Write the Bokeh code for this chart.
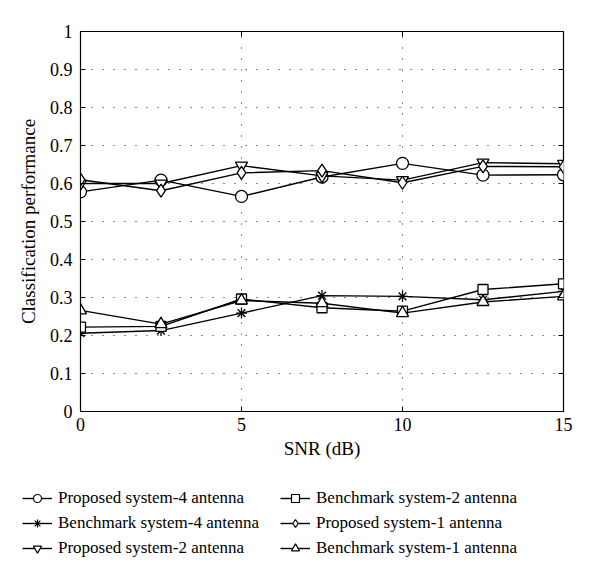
from bokeh.plotting import figure
from bokeh.models import Legend, LegendItem, LinearAxis, Range1d, FixedTicker
from bokeh.embed import file_html
from bokeh.resources import INLINE

snr = [0, 2.5, 5, 7.5, 10, 12.5, 15]
proposed_4 = [0.578, 0.609, 0.566, 0.617, 0.653, 0.622, 0.623]
benchmark_4 = [0.206, 0.213, 0.259, 0.305, 0.303, 0.294, 0.316]
proposed_2 = [0.600, 0.600, 0.647, 0.620, 0.609, 0.655, 0.652]
benchmark_2 = [0.222, 0.224, 0.296, 0.273, 0.264, 0.321, 0.336]
proposed_1 = [0.610, 0.581, 0.628, 0.634, 0.602, 0.645, 0.644]
benchmark_1 = [0.266, 0.230, 0.292, 0.285, 0.259, 0.288, 0.303]

names = ["Proposed system-4 antenna", "Benchmark system-4 antenna", "Proposed system-2 antenna",
         "Benchmark system-2 antenna", "Proposed system-1 antenna", "Benchmark system-1 antenna"]
series = [proposed_4, benchmark_4, proposed_2, benchmark_2, proposed_1, benchmark_1]
markers = ["circle", "asterisk", "inverted_triangle", "square", "diamond", "triangle"]
sizes = [12, 11, 12, 10, 13, 12]
legend_sizes = [9, 9, 9, 8, 10, 9]

x_ticks = [0, 5, 10, 15]
y_ticks = [0, 0.1, 0.2, 0.3, 0.4, 0.5, 0.6, 0.7, 0.8, 0.9, 1]

FONT = "Liberation Serif"

p = figure(width=584, height=470, output_backend="svg", toolbar_location=None,
           x_range=Range1d(0, 15), y_range=Range1d(0, 1),
           min_border_left=80, min_border_right=21, min_border_top=31, min_border_bottom=59)
p.background_fill_color = "white"
p.border_fill_color = "white"
p.outline_line_color = "black"
p.outline_line_width = 1.2

for ax in (p.xaxis[0], p.yaxis[0]):
    ax.major_tick_in = 5
    ax.major_tick_out = 0
    ax.minor_tick_in = 0
    ax.minor_tick_out = 0
    ax.axis_line_color = "black"
    ax.major_label_text_font = FONT
    ax.major_label_text_font_size = "18px"
    ax.major_label_text_color = "black"
    ax.axis_label_text_font = FONT
    ax.axis_label_text_font_size = "19px"
    ax.axis_label_text_font_style = "normal"
    ax.axis_label_text_color = "black"

p.xaxis.ticker = FixedTicker(ticks=x_ticks)
p.yaxis.ticker = FixedTicker(ticks=y_ticks)
p.xaxis.major_label_overrides = {0: "0", 5: "5", 10: "10", 15: "15"}
p.yaxis.major_label_overrides = {t: ("0" if t == 0 else ("1" if t == 1 else f"{t:.1f}")) for t in y_ticks}
p.xaxis.axis_label = "SNR (dB)"
p.yaxis.axis_label = "Classification performance"
p.xaxis.major_label_standoff = 6
p.yaxis.major_label_standoff = 8
p.xaxis.axis_label_standoff = 4
p.yaxis.axis_label_standoff = 8

# mirrored ticks on top and right (no labels)
ax_r = LinearAxis(ticker=FixedTicker(ticks=y_ticks), major_tick_in=5, major_tick_out=0,
                  minor_tick_in=0, minor_tick_out=0, axis_line_color=None,
                  major_label_overrides={t: "" for t in y_ticks}, major_label_standoff=0)
ax_t = LinearAxis(ticker=FixedTicker(ticks=x_ticks), major_tick_in=5, major_tick_out=0,
                  minor_tick_in=0, minor_tick_out=0, axis_line_color=None,
                  major_label_overrides={t: "" for t in x_ticks}, major_label_standoff=0)
p.add_layout(ax_r, "right")
p.add_layout(ax_t, "above")

p.xgrid.ticker = FixedTicker(ticks=x_ticks)
p.ygrid.ticker = FixedTicker(ticks=y_ticks)
for g in (p.xgrid[0], p.ygrid[0]):
    g.grid_line_color = "black"
    g.grid_line_width = 1
    g.grid_line_dash = "1 10"
    g.grid_line_alpha = 0.9

for ys, mk, sz in zip(series, markers, sizes):
    p.line(snr, ys, line_color="black", line_width=1.4)
    p.scatter(snr, ys, marker=mk, size=sz, fill_color="white", line_color="black", line_width=1.3)

# separate legend panel below the chart (its view range keeps the series out of sight)
pl = figure(width=584, height=93, output_backend="svg", toolbar_location=None,
            x_range=Range1d(100, 101), y_range=Range1d(100, 101),
            min_border_left=0, min_border_right=0, min_border_top=0, min_border_bottom=0)
pl.axis.visible = False
pl.grid.visible = False
pl.outline_line_color = None
pl.background_fill_color = "white"
pl.border_fill_color = "white"

items = []
for name, ys, mk, sz in zip(names, series, markers, legend_sizes):
    r1 = pl.line(snr, ys, line_color="black", line_width=1.4)
    r2 = pl.scatter(snr, ys, marker=mk, size=sz, fill_color="white", line_color="black", line_width=1.2)
    items.append(LegendItem(label=name, renderers=[r1, r2]))

legend = Legend(items=items, nrows=3, orientation="vertical", location=(22, 5),
                label_text_font=FONT, label_text_font_size="17px", label_text_color="black",
                glyph_width=30, glyph_height=20, spacing=5, padding=0, margin=0,
                label_width=217, label_standoff=6,
                border_line_color=None, background_fill_alpha=0)
pl.add_layout(legend, "center")

open("out.html", "w").write(file_html([p, pl], INLINE))
